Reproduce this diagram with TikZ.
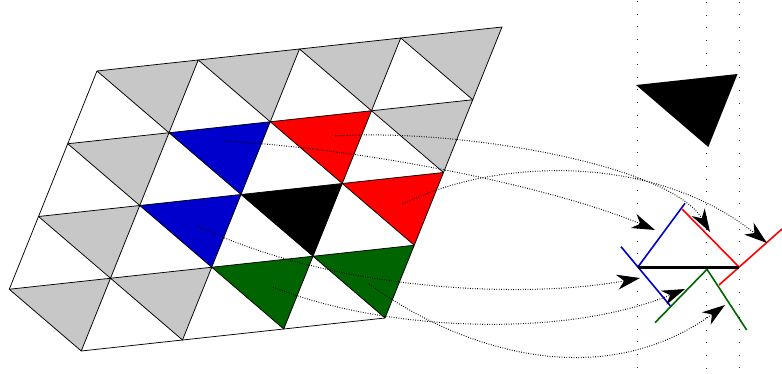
\documentclass[tikz,border=0pt]{standalone}
\usetikzlibrary{arrows.meta}
\definecolor{lgray}{RGB}{199,199,199}
\definecolor{tblue}{RGB}{0,0,204}
\definecolor{tred}{RGB}{255,0,0}
\definecolor{tgreen}{RGB}{0,100,0}
\begin{document}
\begin{tikzpicture}[x=1pt,y=-1pt,
  tri/.style={draw=black,line width=0.75pt,line join=round},
  guide/.style={draw=black!80,line width=1.1pt,dash pattern=on 1pt off 11.6pt},
  link/.style={line width=1pt,dash pattern=on 0.8pt off 1.6pt,-{Stealth[length=23pt,width=15pt,inset=7pt]}},
  seg/.style={line width=1.6pt}]
\useasboundingbox (0,0) rectangle (782,374);

% vertical guides
\coordinate (g1t) at (637.7,1.2); \coordinate (g1b) at (637.7,374);
\coordinate (g2t) at (706.7,2.2); \coordinate (g2b) at (706.7,374);
\coordinate (g3t) at (739.3,1.8); \coordinate (g3b) at (739.3,374);
\draw[guide] (g1t) -- (g1b);
\draw[guide] (g2t) -- (g2b);
\draw[guide] (g3t) -- (g3b);

% lattice points
\foreach \i in {0,...,4} {
  \foreach \j in {0,...,4} {
    \coordinate (p\i\j) at ({97+101.25*\i-29.25*\j},{71-11*\i+72.75*\j});
  }
}
% upper triangles with colours
\foreach \i/\j/\c in {0/0/lgray,1/0/lgray,2/0/lgray,3/0/lgray,
                      0/1/lgray,1/1/tblue,2/1/tred,3/1/lgray,
                      0/2/lgray,1/2/tblue,2/2/black,3/2/tred,
                      0/3/lgray,1/3/lgray,2/3/tgreen,3/3/tgreen} {
  \pgfmathtruncatemacro\ii{\i+1}
  \pgfmathtruncatemacro\jj{\j+1}
  \filldraw[tri,fill=\c] (p\i\j) -- (p\ii\j) -- (p\ii\jj) -- cycle;
}
\draw[tri] (p00) -- (p03);
\draw[tri] (p14) -- (p44);

% right-hand picture
\coordinate (t1) at (636,85); \coordinate (t2) at (737.5,74); \coordinate (t3) at (708.3,147);
\fill[black] (t1) -- (t2) -- (t3) -- cycle;

\coordinate (k1) at (637.7,267.3); \coordinate (k2) at (739.3,267.3);
\coordinate (b1) at (621,246.7); \coordinate (b2) at (671,306.7); \coordinate (b3) at (685,203.3);
\coordinate (r1) at (682,209); \coordinate (r2) at (719,285); \coordinate (r3) at (782,229);
\coordinate (n1) at (655,322.7); \coordinate (n2) at (707,269.3); \coordinate (n3) at (746.7,330);
\draw[seg,tblue] (b1) -- (b2);
\draw[seg,tblue] (k1) -- (b3);
\draw[seg,tred] (r1) -- (k2);
\draw[seg,tred] (r2) -- (r3);
\draw[seg,tgreen] (n1) -- (n2) -- (n3);
\draw[line width=3.4pt] (k1) -- (k2);

% connectors
\coordinate (sA) at (224,141); \coordinate (eA) at (655,230);
\coordinate (sB) at (335,136); \coordinate (eB) at (710,232);
\coordinate (sC) at (403,204); \coordinate (eC) at (767,243);
\coordinate (sD) at (198,226); \coordinate (eD) at (640,278);
\coordinate (sE) at (273,287); \coordinate (eE) at (685,289);
\coordinate (sF) at (369,284); \coordinate (eF) at (725,305);
\draw[link] (sA) .. controls (380,150) and (560,190) .. (eA);
\draw[link] (sB) .. controls (460,128) and (670,165) .. (eB);
\draw[link] (sC) .. controls (490,160) and (650,150) .. (eC);
\draw[link] (sD) .. controls (330,290) and (520,300) .. (eD);
\draw[link] (sE) .. controls (380,330) and (560,340) .. (eE);
\draw[link] (sF) .. controls (460,350) and (600,395) .. (eF);
\end{tikzpicture}
\end{document}
